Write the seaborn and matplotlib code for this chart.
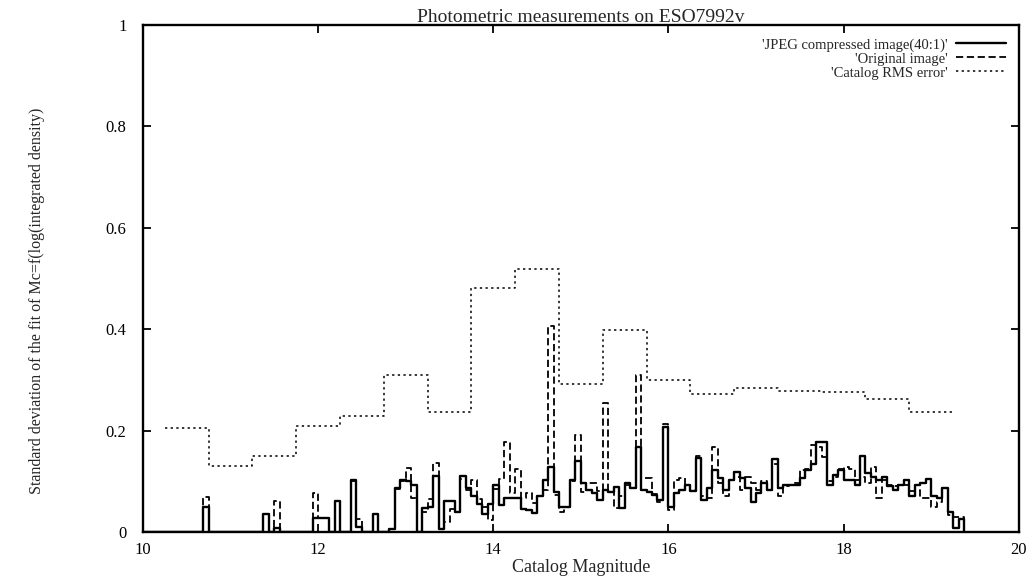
import numpy as np
import matplotlib
import seaborn as sns

matplotlib.use('agg')
import matplotlib.pyplot as plt  # noqa

# bins of 1/16 mag starting at mag 10
BIN_START = 10.0
BIN_WIDTH = 0.0625

jpeg_values = [
    0, 0, 0, 0, 0, 0, 0, 0, 0, 0,
    0, .05, 0, 0, 0, 0, 0, 0, 0, 0,
    0, 0, .036, 0, .008, 0, 0, 0, 0, 0,
    0, .028, .028, .028, 0, .062, 0, 0, .103, .01,
    0, 0, .036, 0, 0, .005, .087, .103, .100, .093,
    0, .047, .05, .11, .005, .062, .062, .04, .11, .086,
    .07, .055, .035, .055, .093, .053, .066, .066, .066, .046,
    .043, .038, .07, .103, .129, .079, .05, .05, .102, .139,
    .096, .083, .076, .063, .083, .079, .089, .047, .096, .086,
    .168, .083, .079, .073, .063, .208, .05, .076, .083, .093,
    .08, .145, .063, .086, .122, .106, .083, .102, .119, .106,
    .086, .06, .076, .096, .083, .143, .086, .093, .093, .093,
    .106, .122, .135, .178, .178, .093, .113, .122, .103, .103,
    .093, .149, .116, .109, .103, .109, .09, .083, .093, .103,
    .07, .093, .096, .104, .07, .066, .086, .04, .008, .025,
    0,
]

original_values = [
    0, 0, 0, 0, 0, 0, 0, 0, 0, 0,
    0, .068, 0, 0, 0, 0, 0, 0, 0, 0,
    0, 0, 0, 0, .062, 0, 0, 0, 0, 0,
    0, .077, .028, .028, 0, 0, 0, 0, .1, .025,
    0, 0, 0, 0, 0, .005, .085, .1, .126, .067,
    0, .04, .065, .136, .005, .02, .045, .04, .105, .083,
    .103, .065, .05, .024, .085, .104, .178, .076, .124, .066,
    .076, .057, .07, .083, .406, .073, .04, .05, .1, .191,
    .079, .096, .096, .08, .254, .079, .047, .07, .093, .086,
    .31, .106, .106, .075, .06, .212, .043, .102, .106, .093,
    .083, .15, .07, .066, .168, .096, .07, .102, .109, .083,
    .109, .096, .083, .1, .083, .135, .07, .09, .093, .096,
    .122, .125, .172, .168, .148, .1, .109, .125, .129, .125,
    .103, .109, .096, .129, .066, .103, .093, .09, .093, .093,
    .08, .083, .066, .066, .05, .06, .086, .033, .03, .03,
    0,
]

# catalog rms error, half-magnitude bins from 10.25 to 19.25
rms_edges = [10.25, 10.75, 11.25, 11.75, 12.25, 12.75, 13.25, 13.75, 14.25,
             14.75, 15.25, 15.75, 16.25, 16.75, 17.25, 17.75, 18.25, 18.75, 19.25]
rms_values = [.205, .13, .15, .209, .229, .31, .237, .481, .519,
              .292, .398, .30, .272, .283, .279, .276, .262, .237]

labels = ["'JPEG compressed image(40:1)'", "'Original image'", "'Catalog RMS error'"]

sns.set_style("ticks")
plt.rcParams['font.family'] = ['Liberation Serif', 'DejaVu Serif']

fig = plt.figure(figsize=(10.29, 5.82), dpi=100)
ax = fig.add_axes([0.139, 0.086, 0.851, 0.871])

mags = BIN_START + BIN_WIDTH * np.arange(len(jpeg_values))
sns.lineplot(x=mags, y=jpeg_values, ax=ax, color="black", lw=1.7,
             drawstyle="steps-post", label=labels[0])
sns.lineplot(x=mags, y=original_values, ax=ax, color="black", lw=1.3,
             drawstyle="steps-post", label=labels[1],
             linestyle=(0, (4, 2)))
sns.lineplot(x=rms_edges, y=rms_values + rms_values[-1:], ax=ax, color="black",
             lw=1.1, drawstyle="steps-post", label=labels[2],
             linestyle=(0, (1.5, 2.2)))

ax.set_xlim(10, 20)
ax.set_ylim(0, 1)
ax.set_xticks([10, 12, 14, 16, 18, 20])
ax.set_yticks([0, 0.2, 0.4, 0.6, 0.8, 1])
ax.set_yticklabels(["0", "0.2", "0.4", "0.6", "0.8", "1"])
ax.tick_params(direction="in", length=6, width=1.3, top=True, right=True,
               labelsize=12, colors="black")
ax.tick_params(axis="y", pad=12)
ax.tick_params(axis="x", pad=7)
for s in ax.spines.values():
    s.set_linewidth(1.7)
    s.set_color("black")

ax.set_title("Photometric measurements on ESO7992v", fontsize=14, pad=2)
ax.set_xlabel("Catalog Magnitude", fontsize=13, labelpad=1)
ax.set_ylabel("Standard deviation of the fit of Mc=f(log(integrated density)",
              fontsize=11.5)
ax.yaxis.set_label_coords(-0.112, 0.455)

ax.legend(loc="upper right", frameon=False, markerfirst=False, fontsize=10.5,
          handlelength=3.4, handletextpad=0.6, labelspacing=0.05,
          borderaxespad=0.6, borderpad=0.3)

fig.savefig("out.png", dpi=100)
